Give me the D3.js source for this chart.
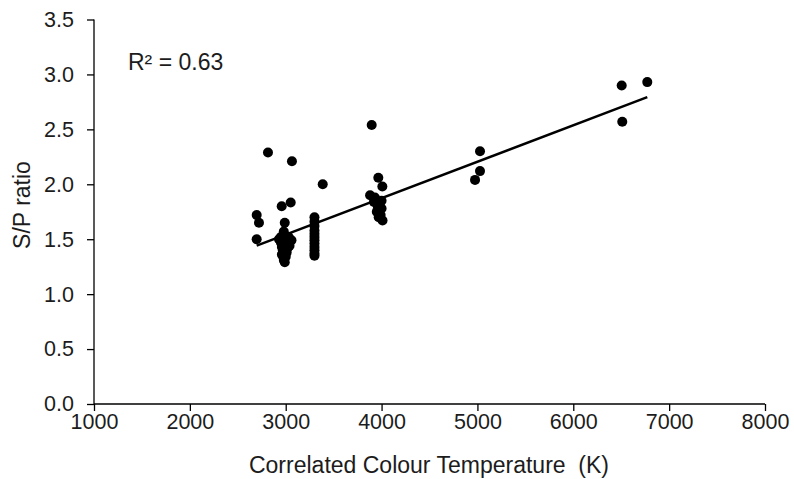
<!DOCTYPE html>
<html>
<head>
<meta charset="utf-8">
<script src="https://cdn.jsdelivr.net/npm/d3@7"></script>
<style>
  html, body { margin: 0; padding: 0; background: #fff; }
  svg { display: block; font-family: "Liberation Sans", Arial, sans-serif; }
</style>
</head>
<body>
<svg id="chart" width="794" height="479"></svg>
<script>
// CCT (K) values of measured lamps
const cct = [
  2815, 3065, 3386, 2958, 3052, 2697, 2721, 2697,
  2990, 2980, 2950, 3030, 3060, 2950, 3000, 2960, 3040, 2970, 3010, 2960, 3000, 2980, 2990, 3020, 2930,
  3300, 3300, 3300, 3300, 3300, 3300, 3300, 3300, 3300, 3300, 3300, 3300,
  3897, 3966, 4008, 3880, 3930, 4000, 3960, 3950, 4000, 3990, 3970, 4010, 3920,
  5027, 5027, 4975,
  6505, 6772, 6511
];
// S/P ratio values
const spRatio = [
  2.29, 2.21, 2.00, 1.80, 1.835, 1.72, 1.65, 1.50,
  1.65, 1.57, 1.52, 1.52, 1.49, 1.47, 1.46, 1.43, 1.44, 1.40, 1.38, 1.36, 1.34, 1.31, 1.29, 1.42, 1.50,
  1.70, 1.66, 1.62, 1.58, 1.55, 1.52, 1.49, 1.46, 1.43, 1.40, 1.37, 1.35,
  2.54, 2.06, 1.98, 1.90, 1.88, 1.85, 1.80, 1.75, 1.78, 1.72, 1.70, 1.67, 1.84,
  2.30, 2.12, 2.04,
  2.90, 2.93, 2.57
];
const xTicks = [1000, 2000, 3000, 4000, 5000, 6000, 7000, 8000];
const yTicks = [0.0, 0.5, 1.0, 1.5, 2.0, 2.5, 3.0, 3.5];
const r2Label = "R² = 0.63";
const xTitle = "Correlated Colour Temperature  (K)";
const yTitle = "S/P ratio";

const W = 794, H = 479;
const m = { left: 94, right: 29, top: 19.5, bottom: 75 };
const svg = d3.select("#chart");

const x = d3.scaleLinear().domain([1000, 8000]).range([m.left, W - m.right]);
const y = d3.scaleLinear().domain([0, 3.5]).range([H - m.bottom, m.top]);

const textColor = "#1c1c1c";
const font = "'Liberation Sans', Arial, sans-serif";

// X axis
const xAxis = svg.append("g")
  .attr("transform", `translate(0,${H - m.bottom})`)
  .call(d3.axisBottom(x).tickValues(xTicks).tickFormat(d3.format("d")).tickSize(7).tickPadding(3));
// Y axis
const yAxis = svg.append("g")
  .attr("transform", `translate(${m.left},0)`)
  .call(d3.axisLeft(y).tickValues(yTicks).tickFormat(d3.format(".1f")).tickSize(7).tickPadding(13));

[xAxis, yAxis].forEach(g => {
  g.select(".domain").attr("stroke", "#000").attr("stroke-width", 1.3);
  g.selectAll(".tick line").attr("stroke", "#000").attr("stroke-width", 1.3);
  g.selectAll(".tick text").attr("fill", textColor).style("font-size", "21.5px")
    .style("font-family", font);
});
xAxis.select(".domain").attr("d", `M${x(1000)},0H${x(8000)}`);
yAxis.select(".domain").attr("d", `M0,${y(3.5)}V${y(0)}`);

// Points
const data = cct.map((c, i) => ({ c, s: spRatio[i] }));
svg.append("g").selectAll("circle")
  .data(data)
  .join("circle")
  .attr("cx", d => x(d.c))
  .attr("cy", d => y(d.s))
  .attr("r", 5)
  .attr("fill", "#000");

// Least-squares trend line
const mx = d3.mean(cct), my = d3.mean(spRatio);
const sxy = d3.sum(data, d => (d.c - mx) * (d.s - my));
const sxx = d3.sum(data, d => (d.c - mx) ** 2);
const slope = sxy / sxx, icpt = my - slope * mx;
const [x0, x1] = d3.extent(cct);
svg.append("line")
  .attr("x1", x(x0)).attr("y1", y(icpt + slope * x0))
  .attr("x2", x(x1)).attr("y2", y(icpt + slope * x1))
  .attr("stroke", "#000").attr("stroke-width", 2.5);

// R² label
svg.append("text")
  .attr("x", 128).attr("y", 70)
  .attr("fill", textColor)
  .style("font-size", "23px")
  .style("font-family", font)
  .text(r2Label);

// Axis titles
svg.append("text")
  .attr("x", 429).attr("y", 473)
  .attr("text-anchor", "middle")
  .attr("fill", textColor)
  .style("font-size", "23px")
  .style("font-family", font)
  .style("white-space", "pre")
  .attr("xml:space", "preserve")
  .text(xTitle);

svg.append("text")
  .attr("transform", `translate(30,205) rotate(-90)`)
  .attr("text-anchor", "middle")
  .attr("fill", textColor)
  .style("font-size", "23px")
  .style("font-family", font)
  .text(yTitle);
</script>
</body>
</html>
